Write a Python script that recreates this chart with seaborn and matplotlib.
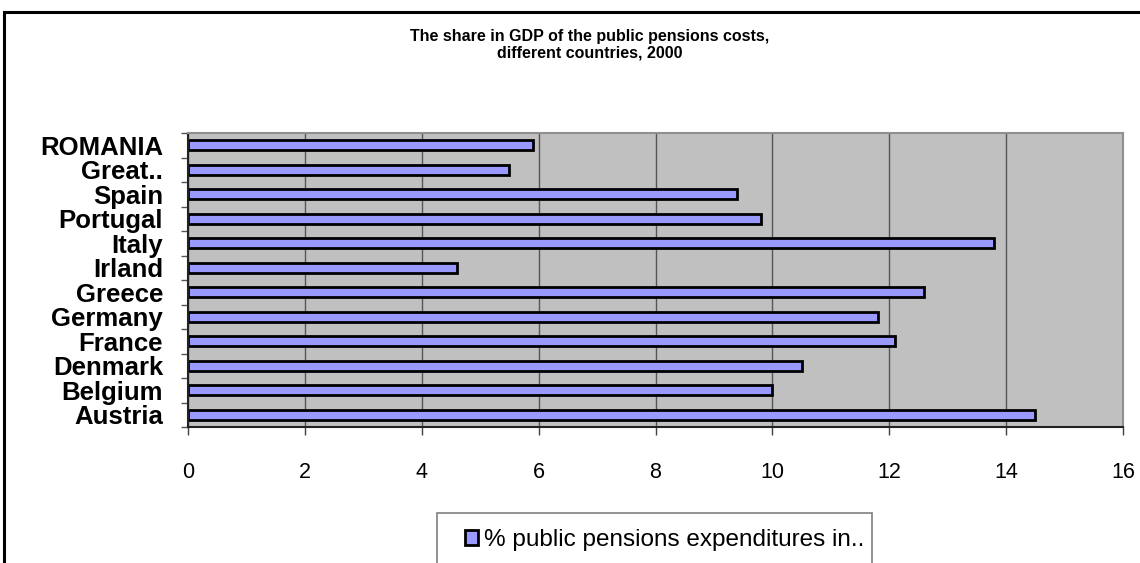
import matplotlib.pyplot as plt
import matplotlib.patches as mpatches
import seaborn as sns

countries = ["ROMANIA", "Great..", "Spain", "Portugal", "Italy", "Irland",
             "Greece", "Germany", "France", "Denmark", "Belgium", "Austria"]
pension_share = [5.9, 5.5, 9.4, 9.8, 13.8, 4.6, 12.6, 11.8, 12.1, 10.5, 10.0, 14.5]
legend_label = "% public pensions expenditures in.."
title = "The share in GDP of the public pensions costs,\ndifferent countries, 2000"
xticks = [0, 2, 4, 6, 8, 10, 12, 14, 16]

sns.set_theme(style="white")
plt.rcParams["font.family"] = ["Liberation Sans", "DejaVu Sans"]
plt.rcParams["text.color"] = "black"
plt.rcParams["xtick.labelcolor"] = "black"
plt.rcParams["ytick.labelcolor"] = "black"

W, H = 1140, 563
fig = plt.figure(figsize=(W / 100, H / 100), dpi=100)
fig.set_facecolor("white")
ax = fig.add_axes([188 / W, 1 - 427 / H, (1123 - 188) / W, (427 - 133) / H])
ax.set_facecolor("#C0C0C0")

sns.barplot(x=pension_share, y=countries, orient="h", color="#9999FF",
            saturation=1, edgecolor="black", linewidth=2, width=0.42, ax=ax)

ax.set_xlim(0, 16)
ax.set_ylim(len(countries) - 0.5, -0.5)
ax.set_xticks(xticks)
ax.set_xticklabels([str(t) for t in xticks], fontsize=15.5)
ax.tick_params(axis="x", direction="out", length=6, width=1, color="#404040",
               pad=19, bottom=True)
ax.grid(axis="x", color="#555555", linewidth=1)
ax.set_axisbelow(True)

ax.set_yticks(range(len(countries)))
ax.set_yticklabels(countries, fontsize=18.5, fontweight="bold")
ax.tick_params(axis="y", which="major", length=0, pad=18)
ax.set_yticks([i - 0.5 for i in range(len(countries) + 1)], minor=True)
ax.tick_params(axis="y", which="minor", direction="out", length=5, width=1,
               color="#555555", left=True)
ax.set_xlabel("")
ax.set_ylabel("")

for side in ["top", "right"]:
    ax.spines[side].set_color("#909090")
    ax.spines[side].set_linewidth(1.5)
for side in ["left", "bottom"]:
    ax.spines[side].set_color("#222222")
    ax.spines[side].set_linewidth(1.5)

fig.text(590 / W, 1 - 45 / H, title, ha="center", va="center",
         fontsize=11.5, fontweight="bold", linespacing=1.1)

# outer chart border
fig.patches.append(mpatches.Rectangle((4 / W, -0.05), 1.1, 1 - 12 / H + 0.05,
                                      transform=fig.transFigure, fill=False,
                                      edgecolor="black", linewidth=2.2))
# legend box
fig.patches.append(mpatches.Rectangle((437 / W, -0.05), (872 - 437) / W,
                                      1 - 513 / H + 0.05,
                                      transform=fig.transFigure, fill=True,
                                      facecolor="white", edgecolor="#808080",
                                      linewidth=1.2))
fig.legend(handles=[ax.patches[0]], labels=[legend_label], frameon=False,
           loc="center left", bbox_to_anchor=(465 / W, 1 - 540 / H),
           fontsize=17.5, handlelength=0.55, handleheight=0.55,
           handletextpad=0.25, borderpad=0, borderaxespad=0)

fig.savefig("out.png", dpi=100)
